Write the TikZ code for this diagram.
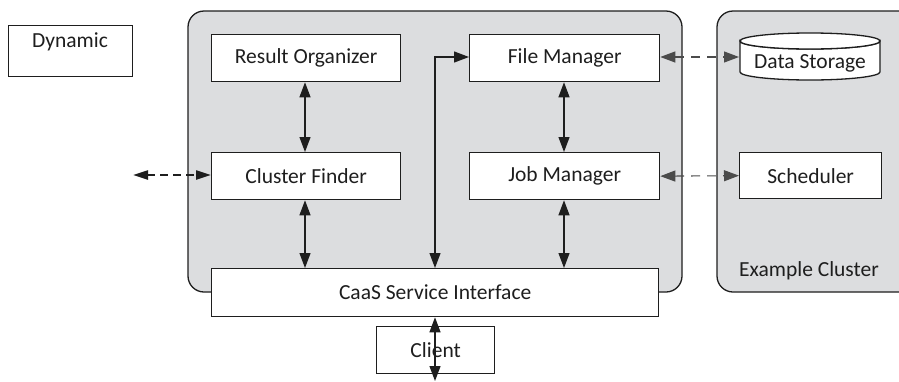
\documentclass[tikz,border=0pt]{standalone}
\usepackage{fontspec}
\setmainfont{Carlito}
\usetikzlibrary{arrows.meta}
\definecolor{panel}{RGB}{220,221,223}
\definecolor{edge}{RGB}{30,30,30}
\tikzset{
  box/.style={draw=edge, line width=1.3pt, fill=white},
  lbl/.style={font=\fontsize{21.5}{25}\selectfont, text=edge},
  dtip/.style={{Triangle[length=15pt,width=11pt]}-{Triangle[length=15pt,width=11pt]}},
  conn/.style={dtip, line width=1.2pt, draw=edge},
  gdash/.style={dtip, line width=1.1pt, draw=edge!80, dash pattern=on 9pt off 7pt},
}
\begin{document}
\begin{tikzpicture}[x=1pt,y=-1pt]
\useasboundingbox (0,0) rectangle (899,381);
% panels
\draw[fill=panel, draw=edge, line width=1.3pt, rounded corners=16pt] (188,11) rectangle (682,292);
\draw[fill=panel, draw=edge, line width=1.3pt, rounded corners=16pt] (717,11) rectangle (920,292);
% Dynamic
\node[box, minimum width=124pt, minimum height=51pt, anchor=north west] (dyn) at (8,25) {};
\node[lbl, anchor=center] (dyntxt) at (70,42) {Dynamic};
% components
\node[box, minimum width=189pt, minimum height=47pt, anchor=north west, lbl] (ro) at (211,34) {Result Organizer};
\node[box, minimum width=189pt, minimum height=47pt, anchor=north west, lbl] (cf) at (211,152) {Cluster Finder};
\node[box, minimum width=190pt, minimum height=47pt, anchor=north west, lbl] (fm) at (469,34) {File Manager};
\node[box, minimum width=190pt, minimum height=47pt, anchor=north west, lbl] (jm) at (469,152) {Job Manager};
\node[box, minimum width=142pt, minimum height=46pt, anchor=north west, lbl] (sch) at (739,152) {Scheduler};
\node[box, minimum width=447pt, minimum height=48pt, anchor=north west, lbl] (caas) at (211,268) {CaaS Service Interface};
\node[box, minimum width=118pt, minimum height=47pt, anchor=north west, lbl] (cl) at (376,326) {Client};
\node[lbl] (ec) at (809,271) {Example Cluster};
% data storage cylinder
\draw[box] (740,41) arc[start angle=180, end angle=360, x radius=70pt, y radius=8pt]
  -- (880,72) arc[start angle=0, end angle=-180, x radius=70pt, y radius=8pt] -- cycle;
\draw[box] (810,41) ellipse[x radius=70pt, y radius=8pt];
\node[lbl] (ds) at (810,63) {Data Storage};
\coordinate (dsw) at (739,57);
% coordinates
\coordinate (left) at (133,175);
\coordinate (bot) at (435,381);
\coordinate (corner) at (435,57);
% connectors
\draw[conn] (ro.south -| 305,0) -- (cf.north -| 305,0);
\draw[conn] (cf.south -| 305,0) -- (caas.north -| 305,0);
\draw[conn] (fm.south -| 564,0) -- (jm.north -| 564,0);
\draw[conn] (jm.south -| 564,0) -- (caas.north -| 564,0);
\draw[conn] (caas.north -| corner) -- (corner) -- (fm.west |- corner);
\draw[conn] (caas.south -| bot) -- (bot);
\draw[{Triangle[length=15pt,width=9pt]}-{Triangle[length=15pt,width=9pt]}, line width=2.2pt, draw=edge, dash pattern=on 8pt off 5pt] (left) -- (cf.west |- left);
\draw[gdash] (fm.east |- dsw) -- (dsw);
\draw[gdash] (jm.east) -- (sch.west);
\end{tikzpicture}
\end{document}
